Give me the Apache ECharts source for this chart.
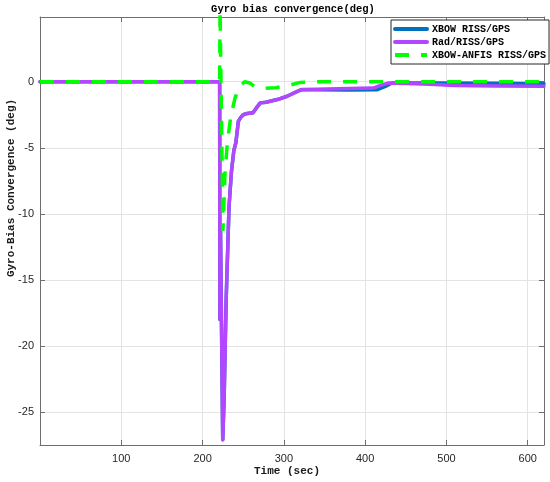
<!DOCTYPE html>
<html>
<head>
<meta charset="utf-8">
<script src="https://cdn.jsdelivr.net/npm/echarts@6/dist/echarts.min.js"></script>
<style>html,body{margin:0;padding:0;background:#fff}#c{width:550px;height:482px}</style>
</head>
<body>
<div id="c"></div>
<script>
// ---- data ----
const seriesNames = ['XBOW RISS/GPS', 'Rad/RISS/GPS', 'XBOW-ANFIS RISS/GPS'];
const xTicks = [100, 200, 300, 400, 500, 600];
const yTicks = [0, -5, -10, -15, -20, -25];

const radX = [0, 221, 221.3, 222, 224.8, 226.5, 229, 232.5, 235.5, 238.5, 241, 244, 247, 250, 255, 262, 266, 271, 278, 292, 304, 316, 322, 340, 380, 410, 418, 428, 440, 480, 510, 560, 620];
const radY = [0, 0, -18, -11, -27.1, -24, -16.5, -9.5, -6.8, -5.2, -4.6, -3.0, -2.7, -2.5, -2.4, -2.35, -2.0, -1.6, -1.55, -1.35, -1.1, -0.75, -0.58, -0.57, -0.52, -0.48, -0.3, -0.1, -0.12, -0.2, -0.28, -0.32, -0.35];

const xbowX = [0, 221, 221.3, 222, 224.8, 226.5, 229, 232.5, 235.5, 238.5, 241, 244, 247, 250, 255, 262, 266, 271, 278, 292, 304, 316, 322, 340, 380, 415, 425, 433, 480, 560, 620];
const xbowY = [0, 0, -18, -11, -27.1, -24, -16.5, -9.5, -6.8, -5.2, -4.6, -3.0, -2.7, -2.5, -2.4, -2.35, -2.0, -1.6, -1.55, -1.35, -1.1, -0.75, -0.6, -0.6, -0.62, -0.6, -0.35, -0.1, -0.1, -0.12, -0.15];

const anfisX = [0, 221, 221.5, 225, 227.5, 230.5, 234.5, 240, 246, 252, 258, 265, 275, 290, 305, 320, 340, 620];
const anfisY = [0, 0, 5.5, -11.3, -7, -4.6, -2.7, -1.2, -0.3, 0, -0.1, -0.4, -0.5, -0.45, -0.3, -0.05, 0, 0];

const zip = (xs, ys) => xs.map((x, i) => [x, ys[i]]);

// ---- chart ----
const chart = echarts.init(document.getElementById('c'), null, {renderer: 'canvas'});
const axisCol = '#6e6e6e';
const gridCol = '#e3e3e3';
const mono = '"Liberation Mono", "DejaVu Sans Mono", monospace';
const sans = '"Liberation Sans", Arial, sans-serif';

const baseX = {
  type: 'value', min: 0, max: 620, interval: 100,
  axisLine: {show: true, onZero: false, lineStyle: {color: axisCol, width: 1}},
  axisTick: {show: true, inside: true, length: 5, lineStyle: {color: axisCol}},
  splitLine: {show: false}
};
const baseY = {
  type: 'value', min: -27.5, max: 4.9, splitNumber: 7,
  axisLine: {show: true, onZero: false, lineStyle: {color: axisCol, width: 1}},
  axisTick: {show: true, inside: true, length: 5, lineStyle: {color: axisCol}},
  splitLine: {show: false}
};

const option = {
  animation: false,
  backgroundColor: '#fff',
  grid: {left: 40, right: 6, top: 17, bottom: 37, containLabel: false},
  xAxis: [
    Object.assign({}, baseX, {
      position: 'bottom',
      splitLine: {show: true, lineStyle: {color: gridCol, width: 1}},
      axisLabel: {
        show: true, margin: 8, color: '#262626', fontSize: 11, fontFamily: sans,
        showMinLabel: false, showMaxLabel: false,
        formatter: v => (xTicks.indexOf(v) >= 0 ? String(v) : '')
      }
    }),
    Object.assign({}, baseX, {position: 'top', axisLabel: {show: false}})
  ],
  yAxis: [
    Object.assign({}, baseY, {
      position: 'left',
      splitLine: {show: true, lineStyle: {color: gridCol, width: 1}},
      axisLabel: {
        show: true, margin: 6, color: '#262626', fontSize: 11, fontFamily: sans,
        showMinLabel: false, showMaxLabel: false,
        formatter: v => (yTicks.indexOf(v) >= 0 ? String(v) : '')
      }
    }),
    Object.assign({}, baseY, {position: 'right', axisLabel: {show: false}})
  ],
  legend: {
    orient: 'vertical', left: 391, top: 20,
    backgroundColor: '#fff', borderColor: '#262626', borderWidth: 1,
    padding: [4, 3, 4, 2], itemGap: 3, itemWidth: 32, itemHeight: 10,
    itemStyle: {opacity: 0},
    lineStyle: {width: 4},
    textStyle: {fontFamily: mono, fontWeight: 'bold', fontSize: 10, color: '#000'},
    data: seriesNames
  },
  graphic: [
    {type: 'text', x: 293, y: 9, style: {text: 'Gyro bias convergence(deg)', font: 'bold 10.5px ' + mono, fill: '#000', align: 'center', verticalAlign: 'middle'}},
    {type: 'text', x: 287, y: 471, style: {text: 'Time (sec)', font: 'bold 11px ' + mono, fill: '#1a1a1a', align: 'center', verticalAlign: 'middle'}},
    {type: 'text', x: 11, y: 188, rotation: Math.PI / 2, style: {text: 'Gyro-Bias Convergence (deg)', font: 'bold 11px ' + mono, fill: '#1a1a1a', align: 'center', verticalAlign: 'middle'}}
  ],
  series: [
    {name: seriesNames[0], type: 'line', showSymbol: false, symbol: 'none', clip: true,
     data: zip(xbowX, xbowY), color: '#0072BD',
     lineStyle: {width: 3.5, color: '#0072BD', cap: 'round', join: 'round'}},
    {name: seriesNames[1], type: 'line', showSymbol: false, symbol: 'none', clip: true,
     data: zip(radX, radY), color: '#B347FF',
     lineStyle: {width: 3.5, color: '#B347FF', cap: 'round', join: 'round'}},
    {name: seriesNames[2], type: 'line', showSymbol: false, symbol: 'none', clip: true,
     data: zip(anfisX, anfisY), color: '#00FF00',
     lineStyle: {width: 3.5, color: '#00FF00', type: [14, 12]}}
  ]
};
chart.setOption(option);
</script>
</body>
</html>
